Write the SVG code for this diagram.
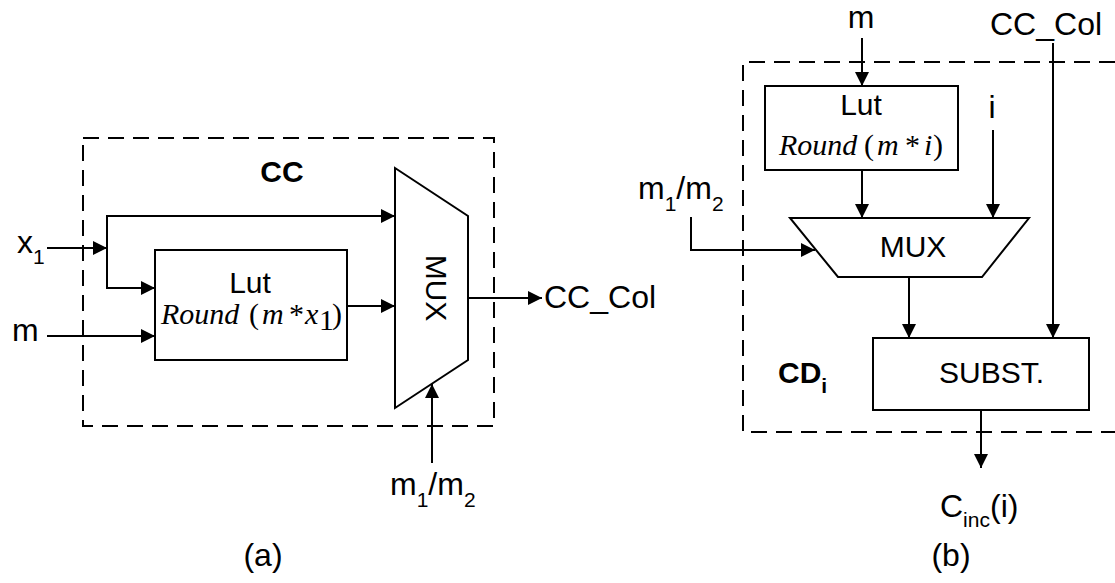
<svg xmlns="http://www.w3.org/2000/svg" width="1115" height="583" viewBox="0 0 1115 583">
<defs>
<style>
.t{font-family:"Liberation Sans",Arial,sans-serif;font-size:32px;fill:#000}
.n{font-size:30px}
.b{font-weight:bold;font-size:30px}
.s{font-size:21px}
.r{font-family:"Liberation Serif","Times New Roman",serif;font-style:italic;font-size:30px;fill:#000}
.ru{font-family:"Liberation Serif","Times New Roman",serif;font-size:30px;fill:#000}
.box{fill:#fff;stroke:#000;stroke-width:2}
.dash{fill:none;stroke:#000;stroke-width:2;stroke-dasharray:16 9}
.c{fill:none;stroke:#000;stroke-width:2;marker-end:url(#ah)}
</style>
<marker id="ah" viewBox="0 0 14 14" refX="14" refY="7" markerWidth="14" markerHeight="14" markerUnits="userSpaceOnUse" orient="auto">
<path d="M0,0 L14,7 L0,14 z" fill="#000"/>
</marker>
</defs>
<rect width="1115" height="583" fill="#fff"/>

<g id="cc-frame">
<rect class="dash" x="83" y="138" width="411" height="288"/>
<text class="t b" x="282" y="182" text-anchor="middle">CC</text>
</g>
<g id="lut-a">
<rect class="box" x="155" y="250" width="192" height="110"/>
<text class="t n" x="250" y="293" text-anchor="middle">Lut</text>
<text class="r" x="161" y="324">Round</text>
<text class="ru" x="249" y="324">(</text>
<text class="r" x="262" y="324">m</text>
<text class="ru" x="289" y="324">*</text>
<text class="r" x="305" y="324">x</text>
<text class="ru" x="319" y="330" font-size="15">1</text>
<text class="ru" x="332" y="324">)</text>
</g>
<g id="mux-a">
<polygon class="box" points="395,168 468,216 468,360 395,408"/>
<text class="t n" x="436" y="288" text-anchor="middle" dominant-baseline="central" transform="rotate(90 436 288)">MUX</text>
</g>
<g id="labels-a">
<text class="t" x="17" y="253">x<tspan class="s" dy="11">1</tspan></text>
<text class="t" x="12" y="341">m</text>
<text class="t" x="544" y="308">CC_Col</text>
<text class="t" x="390" y="495">m<tspan class="s" dy="12">1</tspan><tspan dy="-12">/m</tspan><tspan class="s" dy="12">2</tspan></text>
<text class="t" x="263" y="566" text-anchor="middle">(a)</text>
</g>

<g id="cd-frame">
<path class="dash" d="M1115,62 H743 V432 H1115"/>
<text class="t b" x="778" y="383">CD<tspan class="s" dy="10">i</tspan></text>
</g>
<g id="lut-b">
<rect class="box" x="765" y="86" width="193" height="84"/>
<text class="t n" x="861" y="115" text-anchor="middle">Lut</text>
<text class="r" x="779" y="155">Round</text>
<text class="ru" x="864" y="155">(</text>
<text class="r" x="877" y="155">m</text>
<text class="ru" x="905" y="155">*</text>
<text class="r" x="924" y="155">i</text>
<text class="ru" x="933" y="155">)</text>
</g>
<g id="mux-b">
<polygon class="box" points="790,218 1029,218 982,277 838,277"/>
<text class="t n" x="913" y="257" text-anchor="middle">MUX</text>
</g>
<g id="subst">
<rect class="box" x="873" y="338" width="216" height="72"/>
<text class="t n" x="939" y="383">SUBST.</text>
</g>
<g id="labels-b">
<text class="t" x="861" y="28" text-anchor="middle">m</text>
<text class="t" x="992" y="118" text-anchor="middle">i</text>
<text class="t" x="990" y="35">CC_Col</text>
<text class="t" x="638" y="199">m<tspan class="s" dy="12">1</tspan><tspan dy="-12">/m</tspan><tspan class="s" dy="12">2</tspan></text>
<text class="t" x="940" y="517">C<tspan class="s" dy="10">inc</tspan><tspan dy="-10">(i)</tspan></text>
<text class="t" x="951" y="566" text-anchor="middle">(b)</text>
</g>

<g id="connectors">
<path class="c" d="M47,248 H107"/>
<path class="c" d="M107,248 V216 H395"/>
<path class="c" d="M107,248 V288 H155"/>
<path class="c" d="M47,336 H155"/>
<path class="c" d="M347,306 H395"/>
<path class="c" d="M468,298 H542"/>
<path class="c" d="M432,463 V384"/>
<path class="c" d="M862,38 V86"/>
<path class="c" d="M862,170 V218"/>
<path class="c" d="M993,130 V218"/>
<path class="c" d="M691,217 V250 H815"/>
<path class="c" d="M909,277 V338"/>
<path class="c" d="M1053,43 V338"/>
<path class="c" d="M981,410 V468"/>
</g>
</svg>
